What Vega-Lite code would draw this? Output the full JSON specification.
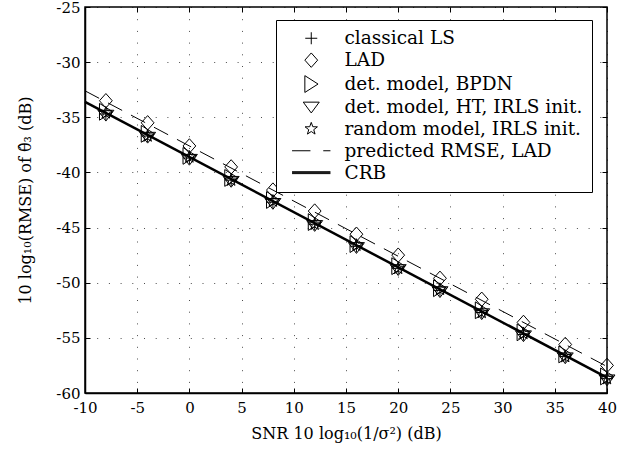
{
  "$schema": "https://vega.github.io/schema/vega-lite/v6.json",
  "width": 522,
  "height": 386,
  "autosize": "none",
  "padding": {"left": 85, "top": 7, "right": 25, "bottom": 60},
  "config": {
    "font": "DejaVu Serif",
    "view": {"stroke": "black", "strokeWidth": 1.5},
    "axis": {
      "labelFont": "DejaVu Serif",
      "labelFontSize": 15,
      "labelColor": "black",
      "labelFlush": false,
      "labelOverlap": false,
      "titleFont": "DejaVu Serif",
      "titleFontSize": 16,
      "titleFontWeight": "normal",
      "titleColor": "black",
      "domainColor": "black",
      "domainWidth": 1.5,
      "tickColor": "black",
      "tickWidth": 1,
      "tickSize": -5,
      "gridColor": "black",
      "gridDash": [1, 10.7],
      "gridOpacity": 0.7,
      "gridWidth": 1
    }
  },
  "datasets": {
    "lines": [
      {"series": "CRB", "x": -10, "y": -33.6},
      {"series": "CRB", "x": 40, "y": -58.6},
      {"series": "predicted RMSE, LAD", "x": -10, "y": -32.6},
      {"series": "predicted RMSE, LAD", "x": 40, "y": -57.6}
    ],
    "markers": [
      {"series": "classical LS", "x": -8, "y": -34.7},
      {"series": "classical LS", "x": -4, "y": -36.7},
      {"series": "classical LS", "x": 0, "y": -38.7},
      {"series": "classical LS", "x": 4, "y": -40.7},
      {"series": "classical LS", "x": 8, "y": -42.7},
      {"series": "classical LS", "x": 12, "y": -44.7},
      {"series": "classical LS", "x": 16, "y": -46.7},
      {"series": "classical LS", "x": 20, "y": -48.7},
      {"series": "classical LS", "x": 24, "y": -50.7},
      {"series": "classical LS", "x": 28, "y": -52.7},
      {"series": "classical LS", "x": 32, "y": -54.7},
      {"series": "classical LS", "x": 36, "y": -56.7},
      {"series": "classical LS", "x": 40, "y": -58.7},
      {"series": "LAD", "x": -8, "y": -33.5},
      {"series": "LAD", "x": -4, "y": -35.5},
      {"series": "LAD", "x": 0, "y": -37.6},
      {"series": "LAD", "x": 4, "y": -39.5},
      {"series": "LAD", "x": 8, "y": -41.6},
      {"series": "LAD", "x": 12, "y": -43.5},
      {"series": "LAD", "x": 16, "y": -45.6},
      {"series": "LAD", "x": 20, "y": -47.5},
      {"series": "LAD", "x": 24, "y": -49.6},
      {"series": "LAD", "x": 28, "y": -51.5},
      {"series": "LAD", "x": 32, "y": -53.6},
      {"series": "LAD", "x": 36, "y": -55.6},
      {"series": "LAD", "x": 40, "y": -57.5},
      {"series": "det. model, BPDN", "x": -8, "y": -34.5},
      {"series": "det. model, BPDN", "x": -4, "y": -36.5},
      {"series": "det. model, BPDN", "x": 0, "y": -38.5},
      {"series": "det. model, BPDN", "x": 4, "y": -40.5},
      {"series": "det. model, BPDN", "x": 8, "y": -42.5},
      {"series": "det. model, BPDN", "x": 12, "y": -44.5},
      {"series": "det. model, BPDN", "x": 16, "y": -46.5},
      {"series": "det. model, BPDN", "x": 20, "y": -48.5},
      {"series": "det. model, BPDN", "x": 24, "y": -50.5},
      {"series": "det. model, BPDN", "x": 28, "y": -52.5},
      {"series": "det. model, BPDN", "x": 32, "y": -54.5},
      {"series": "det. model, BPDN", "x": 36, "y": -56.5},
      {"series": "det. model, BPDN", "x": 40, "y": -58.5},
      {"series": "det. model, HT, IRLS init.", "x": -8, "y": -34.8},
      {"series": "det. model, HT, IRLS init.", "x": -4, "y": -36.8},
      {"series": "det. model, HT, IRLS init.", "x": 0, "y": -38.8},
      {"series": "det. model, HT, IRLS init.", "x": 4, "y": -40.8},
      {"series": "det. model, HT, IRLS init.", "x": 8, "y": -42.8},
      {"series": "det. model, HT, IRLS init.", "x": 12, "y": -44.8},
      {"series": "det. model, HT, IRLS init.", "x": 16, "y": -46.8},
      {"series": "det. model, HT, IRLS init.", "x": 20, "y": -48.8},
      {"series": "det. model, HT, IRLS init.", "x": 24, "y": -50.8},
      {"series": "det. model, HT, IRLS init.", "x": 28, "y": -52.8},
      {"series": "det. model, HT, IRLS init.", "x": 32, "y": -54.8},
      {"series": "det. model, HT, IRLS init.", "x": 36, "y": -56.8},
      {"series": "det. model, HT, IRLS init.", "x": 40, "y": -58.8},
      {"series": "random model, IRLS init.", "x": -8, "y": -34.6},
      {"series": "random model, IRLS init.", "x": -4, "y": -36.7},
      {"series": "random model, IRLS init.", "x": 0, "y": -38.6},
      {"series": "random model, IRLS init.", "x": 4, "y": -40.7},
      {"series": "random model, IRLS init.", "x": 8, "y": -42.6},
      {"series": "random model, IRLS init.", "x": 12, "y": -44.7},
      {"series": "random model, IRLS init.", "x": 16, "y": -46.6},
      {"series": "random model, IRLS init.", "x": 20, "y": -48.7},
      {"series": "random model, IRLS init.", "x": 24, "y": -50.6},
      {"series": "random model, IRLS init.", "x": 28, "y": -52.7},
      {"series": "random model, IRLS init.", "x": 32, "y": -54.6},
      {"series": "random model, IRLS init.", "x": 36, "y": -56.7},
      {"series": "random model, IRLS init.", "x": 40, "y": -58.7}
    ]
  },
  "layer": [
    {
      "data": {"name": "lines"},
      "transform": [{"filter": "datum.series === 'CRB'"}],
      "mark": {"type": "line", "color": "black", "strokeWidth": 2.5},
      "encoding": {
        "x": {
          "field": "x", "type": "quantitative",
          "scale": {"domain": [-10, 40], "nice": false},
          "axis": {
            "orient": "bottom",
            "values": [-10, -5, 0, 5, 10, 15, 20, 25, 30, 35, 40],
            "labelExpr": "datum.value < 0 ? '' + datum.value + ' ' : '' + datum.value",
            "labelPadding": 12,
            "title": "SNR 10 log₁₀(1/σ²) (dB)",
            "titlePadding": 10,
            "grid": true
          }
        },
        "y": {
          "field": "y", "type": "quantitative",
          "scale": {"domain": [-60, -25], "nice": false},
          "axis": {
            "orient": "left",
            "values": [-60, -55, -50, -45, -40, -35, -30, -25],
            "labelExpr": "'' + datum.value",
            "labelPadding": 10,
            "title": "10 log₁₀(RMSE) of θ̂₃ (dB)",
            "titlePadding": 22,
            "grid": true
          }
        }
      }
    },
    {
      "data": {"name": "lines"},
      "transform": [{"filter": "datum.series === 'predicted RMSE, LAD'"}],
      "mark": {"type": "line", "color": "black", "strokeWidth": 1, "strokeDash": [16, 10]},
      "encoding": {
        "x": {
          "field": "x", "type": "quantitative",
          "scale": {"domain": [-10, 40], "nice": false},
          "axis": {
            "orient": "top",
            "values": [-10, -5, 0, 5, 10, 15, 20, 25, 30, 35, 40],
            "labels": false, "domain": false, "grid": false, "title": null
          }
        },
        "y": {
          "field": "y", "type": "quantitative",
          "scale": {"domain": [-60, -25], "nice": false},
          "axis": {
            "orient": "right",
            "values": [-60, -55, -50, -45, -40, -35, -30, -25],
            "labels": false, "domain": false, "grid": false, "title": null
          }
        }
      }
    },
    {
      "data": {"name": "markers"},
      "mark": {"type": "point", "filled": false, "color": "black", "strokeWidth": 1, "size": 256, "opacity": 1},
      "encoding": {
        "x": {"field": "x", "type": "quantitative", "axis": null},
        "y": {"field": "y", "type": "quantitative", "axis": null},
        "shape": {
          "field": "series", "type": "nominal",
          "scale": {
            "domain": ["classical LS", "LAD", "det. model, BPDN", "det. model, HT, IRLS init.", "random model, IRLS init.", "predicted RMSE, LAD", "CRB"],
            "range": [
              "M-0.75,0H0.75M0,-0.75V0.75",
              "M0,-0.9L0.8,0L0,0.9L-0.8,0Z",
              "M-0.8,-1.05L0.85,0L-0.8,1.05Z",
              "M-1,-0.6L1,-0.6L0,0.75Z",
              "M0,-0.81L0.194,-0.267L0.77,-0.25L0.314,0.102L0.476,0.655L0,0.33L-0.476,0.655L-0.314,0.102L-0.77,-0.25L-0.194,-0.267Z",
              "M-2.4,0H-0.1M1.5,0H2.4",
              "M-2.4,-0.12H2.4M-2.4,0H2.4M-2.4,0.12H2.4"
            ]
          },
          "legend": {
            "orient": "none",
            "legendX": 191,
            "legendY": 13,
            "title": null,
            "padding": 9,
            "strokeColor": "black",
            "fillColor": "white",
            "symbolSize": 256,
            "symbolOffset": 17,
            "symbolStrokeColor": "black",
            "symbolFillColor": "transparent",
            "symbolStrokeWidth": 1,
            "labelFont": "DejaVu Serif",
            "labelFontSize": 18.5,
            "labelColor": "black",
            "labelOffset": 24,
            "labelLimit": 400,
            "rowPadding": 2.9
          }
        }
      }
    }
  ],
  "resolve": {"axis": {"x": "independent", "y": "independent"}}
}
